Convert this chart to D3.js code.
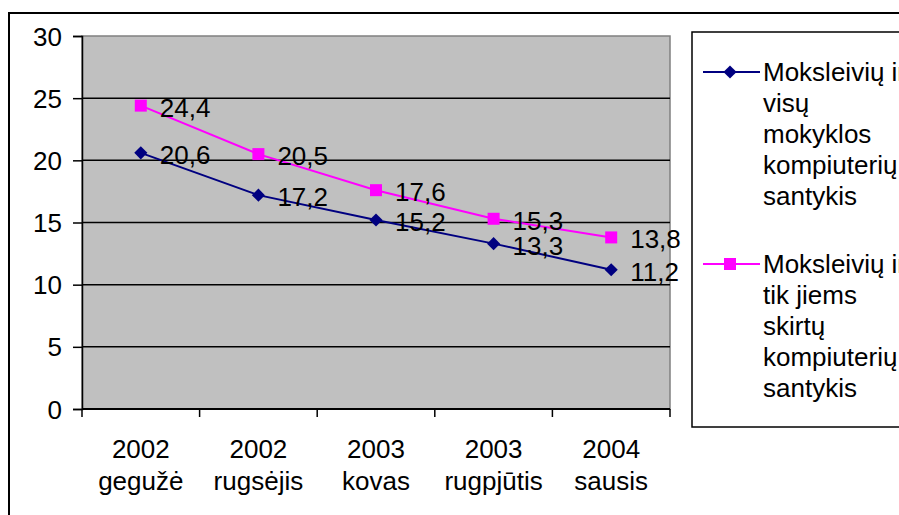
<!DOCTYPE html>
<html><head><meta charset="utf-8">
<script src="https://cdn.jsdelivr.net/npm/d3@7"></script>
<style>body{margin:0;background:#fff;}svg{display:block;font-family:"Liberation Sans",Arial,sans-serif;}</style>
</head><body>
<svg id="c" width="899" height="515"></svg>
<script>
const categories = [["2002","gegužė"],["2002","rugsėjis"],["2003","kovas"],["2003","rugpjūtis"],["2004","sausis"]];
const seriesNames = [
  ["Moksleivių ir","visų","mokyklos","kompiuterių","santykis"],
  ["Moksleivių ir","tik jiems","skirtų","kompiuterių","santykis"]
];
const seriesAll = [20.6, 17.2, 15.2, 13.3, 11.2];
const seriesOwn = [24.4, 20.5, 17.6, 15.3, 13.8];
const yTicks = [0,5,10,15,20,25,30];
const colors = ["#000080","#FF00FF"];

const FS = 26;
const svg = d3.select("#c");
const L = 82, R = 670, T = 36, B = 409;
const x = d3.scaleBand().domain(categories.map((d,i)=>i)).range([L,R]);
const y = d3.scaleLinear().domain([0,30]).range([B,T]);

// outer chart border
svg.append("rect").attr("x",9).attr("y",13).attr("width",1000).attr("height",1000)
  .attr("fill","#fff").attr("stroke","#000").attr("stroke-width",2);

// plot area
svg.append("rect").attr("x",L).attr("y",T).attr("width",R-L).attr("height",B-T)
  .attr("fill","#C0C0C0").attr("stroke","#808080").attr("stroke-width",1.5);

// gridlines
svg.append("g").selectAll("line").data(yTicks.filter(v=>v>0&&v<30)).join("line")
  .attr("x1",L).attr("x2",R).attr("y1",d=>y(d)).attr("y2",d=>y(d))
  .attr("stroke","#000").attr("stroke-width",1.5);

// y axis
const ya = svg.append("g").attr("transform",`translate(${L},0)`)
  .call(d3.axisLeft(y).tickValues(yTicks).tickSize(9).tickPadding(11));
ya.select(".domain").attr("stroke","#000").attr("stroke-width",1.5);
ya.selectAll(".tick line").attr("stroke","#000").attr("stroke-width",1.5);
ya.selectAll("text").attr("font-size",FS).attr("fill","#000").attr("dy","0.35em")
  .attr("font-family","Liberation Sans, Arial, sans-serif");

// x axis
const xa = svg.append("g").attr("transform",`translate(0,${B})`);
xa.append("line").attr("x1",L).attr("x2",R).attr("stroke","#000").attr("stroke-width",2);
const edges = categories.map((d,i)=>x(i)).concat([R]);
xa.selectAll(".tk").data(edges).join("line").attr("class","tk")
  .attr("x1",d=>d).attr("x2",d=>d).attr("y1",0).attr("y2",8).attr("stroke","#000").attr("stroke-width",1.5);
const xl = xa.selectAll(".lbl").data(categories).join("text").attr("class","lbl")
  .attr("x",(d,i)=>x(i)+x.bandwidth()/2).attr("text-anchor","middle")
  .attr("font-size",FS).attr("fill","#000");
xl.append("tspan").attr("x",(d,i)=>x(i)+x.bandwidth()/2).attr("y",49).text(d=>d[0]);
xl.append("tspan").attr("x",(d,i)=>x(i)+x.bandwidth()/2).attr("y",81).text(d=>d[1]);

// series
const cx = i => x(i)+x.bandwidth()/2;
const line = d3.line().x((d,i)=>cx(i)).y(d=>y(d));
const series = [seriesAll, seriesOwn];
const diamond = d3.symbol(d3.symbolDiamond2 || d3.symbolDiamond, 110);
series.forEach((vals,s)=>{
  svg.append("path").datum(vals).attr("d",line).attr("fill","none")
    .attr("stroke",colors[s]).attr("stroke-width",2);
  const g = svg.append("g");
  if (s===0) {
    g.selectAll("path").data(vals).join("path")
      .attr("d",diamond)
      .attr("transform",(d,i)=>`translate(${cx(i)},${y(d)})`)
      .attr("fill",colors[s]);
  } else {
    g.selectAll("rect").data(vals).join("rect")
      .attr("x",(d,i)=>cx(i)-6).attr("y",d=>y(d)-6).attr("width",12).attr("height",12)
      .attr("fill",colors[s]);
  }
  svg.append("g").selectAll("text").data(vals).join("text")
    .attr("x",(d,i)=>cx(i)+19).attr("y",d=>y(d)+11)
    .attr("font-size",FS).attr("fill","#000")
    .text(d=>d3.format(".1f")(d).replace(".",","));
});

// legend
svg.append("rect").attr("x",692).attr("y",32).attr("width",400).attr("height",395)
  .attr("fill","#fff").attr("stroke","#000").attr("stroke-width",1.5);
const legY = [72, 264];
seriesNames.forEach((lines,s)=>{
  const ly = legY[s];
  svg.append("line").attr("x1",703).attr("x2",760).attr("y1",ly).attr("y2",ly)
    .attr("stroke",colors[s]).attr("stroke-width",2);
  if (s===0) {
    svg.append("path").attr("d",diamond)
      .attr("transform",`translate(730,${ly})`).attr("fill",colors[s]);
  } else {
    svg.append("rect").attr("x",724).attr("y",ly-6).attr("width",12).attr("height",12).attr("fill",colors[s]);
  }
  const t = svg.append("text").attr("font-size",FS).attr("fill","#000");
  lines.forEach((ln,k)=>{
    t.append("tspan").attr("x",763).attr("y",ly+9+k*31).text(ln);
  });
});
</script>
</body></html>
